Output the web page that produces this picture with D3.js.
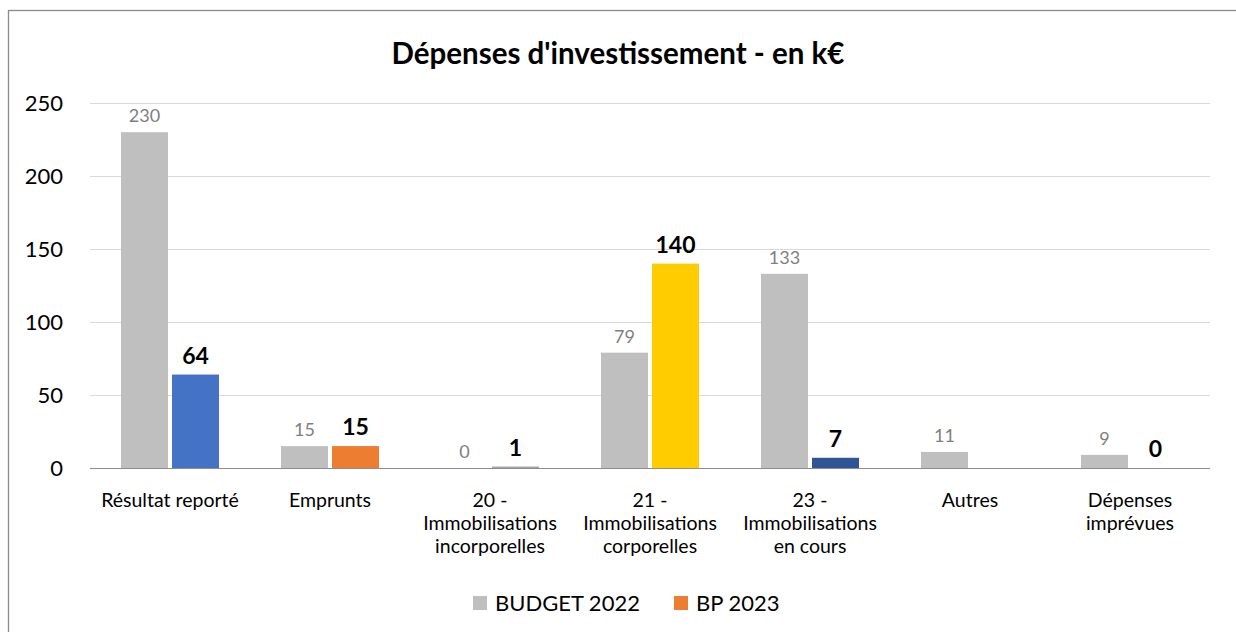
<!DOCTYPE html>
<html>
<head>
  <meta charset="utf-8">
  <title>Dépenses d'investissement</title>
  <script src="https://d3js.org/d3.v7.min.js"></script>
  <style>
    body { margin: 0; background: #fff; }
    text { font-family: Lato, "Noto Sans", sans-serif; }
  </style>
</head>
<body>
  <script>
    // data
    let categories = [
      ["Résultat reporté"],
      ["Emprunts"],
      ["20 -", "Immobilisations", "incorporelles"],
      ["21 -", "Immobilisations", "corporelles"],
      ["23 -", "Immobilisations", "en cours"],
      ["Autres"],
      ["Dépenses", "imprévues"]
    ];
    let budget2022 = [230, 15, 0, 79, 133, 11, 9];
    let bp2023 = [64, 15, 1, 140, 7, null, 0];
    let bpColors = ["#4472C4", "#ED7D31", "#A5A5A5", "#FFCC00", "#2F5597", "#4472C4", "#4472C4"];
    let yTicks = [0, 50, 100, 150, 200, 250];

    let width = 1236;
    let height = 632;

    let svg = d3.select("body")
      .append("svg")
      .attr("width", width)
      .attr("height", height);

    // chart frame (only top and left edges show in the window)
    svg.append("rect")
      .attr("x", 8.5)
      .attr("y", 10.5)
      .attr("width", 1240)
      .attr("height", 640)
      .attr("fill", "#fff")
      .attr("stroke", "#8c8c8c")
      .attr("stroke-width", 1.3);

    svg.append("text")
      .attr("x", 618)
      .attr("y", 64)
      .attr("text-anchor", "middle")
      .attr("font-size", 29.5)
      .attr("font-weight", "bold")
      .attr("fill", "#000")
      .text("Dépenses d'investissement - en k€");

    let x = d3.scaleBand()
      .domain(d3.range(categories.length))
      .range([90, 1210]);

    let y = d3.scaleLinear()
      .domain([0, 250])
      .range([468, 103]);

    let barW = 47;
    let gap = 4;

    // grid
    svg.append("g")
      .selectAll("line")
      .data(yTicks.filter(d => d > 0))
      .enter()
      .append("line")
      .attr("x1", 90)
      .attr("x2", 1210)
      .attr("y1", d => Math.round(y(d)) + 0.5)
      .attr("y2", d => Math.round(y(d)) + 0.5)
      .attr("stroke", "#d9d9d9");

    let yAxis = svg.append("g")
      .attr("transform", "translate(90,0)")
      .call(d3.axisLeft(y).tickValues(yTicks).tickSize(0).tickPadding(27));
    yAxis.select(".domain").remove();
    yAxis.selectAll("text")
      .attr("font-size", 22)
      .attr("fill", "#000")
      .attr("font-family", "Lato, 'Noto Sans', sans-serif");

    let cx = i => x(i) + x.bandwidth() / 2;

    // budget 2022 bars
    svg.append("g")
      .selectAll("rect")
      .data(budget2022)
      .enter()
      .append("rect")
      .attr("x", (d, i) => cx(i) - gap / 2 - barW)
      .attr("width", barW)
      .attr("y", d => y(d))
      .attr("height", d => y(0) - y(d))
      .attr("fill", "#BFBFBF");

    // BP 2023 bars, keep the category index with each value
    let bpData = bp2023
      .map((v, i) => ({ v: v, i: i }))
      .filter(d => d.v !== null);

    svg.append("g")
      .selectAll("rect")
      .data(bpData)
      .enter()
      .append("rect")
      .attr("x", d => cx(d.i) + gap / 2)
      .attr("width", barW)
      .attr("y", d => y(d.v))
      .attr("height", d => y(0) - y(d.v))
      .attr("fill", d => bpColors[d.i]);

    // baseline
    svg.append("line")
      .attr("x1", 90)
      .attr("x2", 1210)
      .attr("y1", y(0) + 0.5)
      .attr("y2", y(0) + 0.5)
      .attr("stroke", "#8c8c8c");

    // labels
    svg.append("g")
      .selectAll("text")
      .data(budget2022)
      .enter()
      .append("text")
      .attr("x", (d, i) => cx(i) - gap / 2 - barW / 2)
      .attr("y", d => y(d) - 10)
      .attr("text-anchor", "middle")
      .attr("font-size", 18)
      .attr("fill", "#7f7f7f")
      .text(d => d);

    svg.append("g")
      .selectAll("text")
      .data(bpData)
      .enter()
      .append("text")
      .attr("x", d => cx(d.i) + gap / 2 + barW / 2)
      .attr("y", d => y(d.v) - 11)
      .attr("text-anchor", "middle")
      .attr("font-size", 23)
      .attr("font-weight", "bold")
      .attr("fill", "#000")
      .text(d => d.v);

    // category labels
    let catG = svg.append("g")
      .selectAll("text")
      .data(categories)
      .enter()
      .append("text")
      .attr("x", (d, i) => cx(i))
      .attr("y", 507)
      .attr("text-anchor", "middle")
      .attr("font-size", 19.5)
      .attr("fill", "#000");
    catG.selectAll("tspan")
      .data(d => d)
      .enter()
      .append("tspan")
      .attr("x", function () { return d3.select(this.parentNode).attr("x"); })
      .attr("dy", (d, i) => i === 0 ? 0 : 23)
      .text(d => d);

    // legend
    let legend = [
      { name: "BUDGET 2022", color: "#BFBFBF", x: 473 },
      { name: "BP 2023", color: "#ED7D31", x: 674 }
    ];
    let lg = svg.append("g")
      .selectAll("g")
      .data(legend)
      .enter()
      .append("g");
    lg.append("rect")
      .attr("x", d => d.x)
      .attr("y", 596)
      .attr("width", 14)
      .attr("height", 14)
      .attr("fill", d => d.color);
    lg.append("text")
      .attr("x", d => d.x + 22)
      .attr("y", 611)
      .attr("font-size", 22)
      .attr("fill", "#000")
      .text(d => d.name);
  </script>
</body>
</html>
